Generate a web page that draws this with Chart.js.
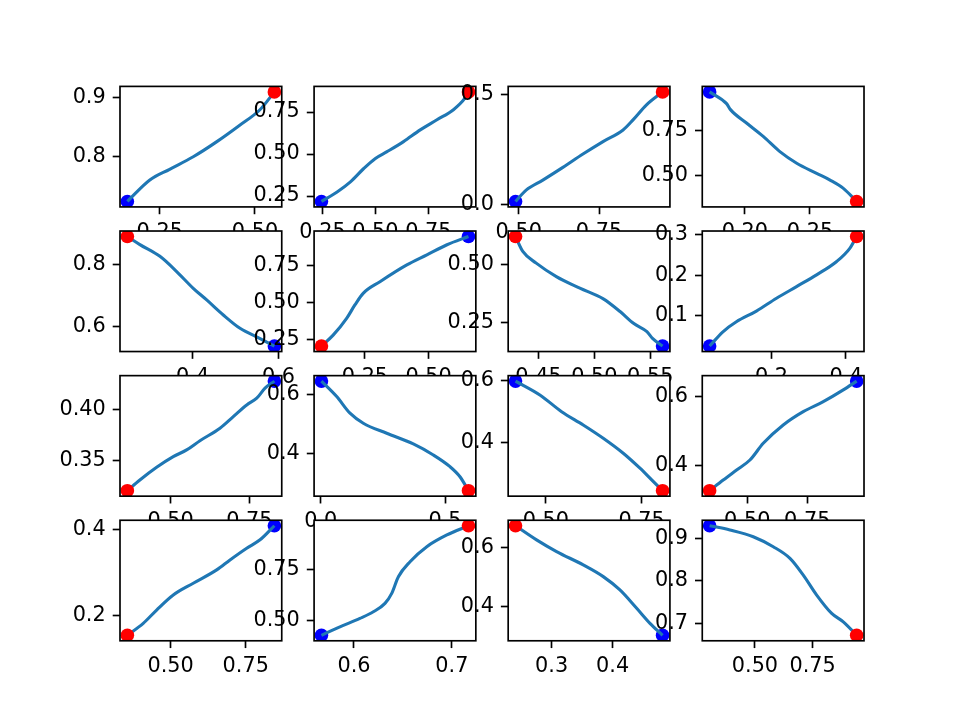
<!DOCTYPE html>
<html>
<head>
<meta charset="utf-8">
<script src="https://cdn.jsdelivr.net/npm/chart.js@4.4.1/dist/chart.umd.min.js"></script>
<style>
html, body { margin: 0; padding: 0; background: #fff; }
#fig { position: relative; width: 960px; height: 720px; overflow: hidden; background: #fff; }
#fig canvas { position: absolute; }
</style>
</head>
<body>
<div id="fig"></div>
<script>
// each curve is listed from the blue dot (first point) to the red dot (last point)
var x1 = [0.165, 0.224, 0.276, 0.338, 0.399, 0.46, 0.513, 0.551];
var y1 = [0.725, 0.761, 0.779, 0.80, 0.825, 0.853, 0.879, 0.909];
var x2 = [0.245, 0.319, 0.382, 0.445, 0.50, 0.555, 0.633, 0.712, 0.791, 0.869, 0.924, 0.94];
var y2 = [0.218, 0.274, 0.334, 0.414, 0.474, 0.514, 0.574, 0.644, 0.704, 0.764, 0.834, 0.87];
var x3 = [0.49, 0.523, 0.575, 0.6375, 0.70, 0.7625, 0.825, 0.856, 0.898, 0.948];
var y3 = [0.0125, 0.064, 0.110, 0.168, 0.229, 0.286, 0.339, 0.385, 0.454, 0.513];
var x4 = [0.173, 0.186, 0.189, 0.2013, 0.2141, 0.2269, 0.2398, 0.2551, 0.2654, 0.2756, 0.2858];
var y4 = [0.963, 0.898, 0.865, 0.791, 0.717, 0.633, 0.569, 0.513, 0.476, 0.430, 0.358];
var x5 = [0.5905, 0.5571, 0.5104, 0.4714, 0.4327, 0.4014, 0.3627, 0.3237, 0.277, 0.2478];
var y5 = [0.5378, 0.562, 0.595, 0.638, 0.6865, 0.724, 0.778, 0.827, 0.865, 0.891];
var x6 = [0.657, 0.5725, 0.4935, 0.4146, 0.309, 0.243, 0.2105, 0.178, 0.125, 0.079];
var y6 = [0.947, 0.891, 0.8225, 0.754, 0.640, 0.561, 0.482, 0.391, 0.277, 0.203];
var x7 = [0.561, 0.552, 0.547, 0.535, 0.523, 0.508, 0.487, 0.466, 0.448, 0.436, 0.4295];
var y7 = [0.149, 0.182, 0.211, 0.247, 0.298, 0.353, 0.399, 0.449, 0.507, 0.5576, 0.622];
var x8 = [0.034, 0.0697, 0.1058, 0.1596, 0.2135, 0.2673, 0.3211, 0.375, 0.4108, 0.4287];
var y8 = [0.0252, 0.0604, 0.0851, 0.1116, 0.1431, 0.1719, 0.2009, 0.2338, 0.267, 0.2955];
var x9 = [0.8297, 0.80, 0.7736, 0.7418, 0.6991, 0.6568, 0.5932, 0.5509, 0.5083, 0.4555, 0.4023, 0.3625];
var y9 = [0.4283, 0.4214, 0.4115, 0.4049, 0.3934, 0.382, 0.3697, 0.3606, 0.354, 0.3435, 0.331, 0.3205];
var x10 = [0.003, 0.0644, 0.1178, 0.1713, 0.2655, 0.3724, 0.4529, 0.52, 0.5602, 0.5943];
var y10 = [0.6465, 0.5942, 0.538, 0.504, 0.470, 0.434, 0.3966, 0.357, 0.323, 0.2758];
var x11 = [0.4208, 0.4843, 0.541, 0.5974, 0.6497, 0.7019, 0.7455, 0.7761, 0.8045];
var y11 = [0.5985, 0.5537, 0.4995, 0.4564, 0.4133, 0.3647, 0.3161, 0.2782, 0.2433];
var x12 = [0.9557, 0.90, 0.8167, 0.7333, 0.65, 0.5667, 0.5113, 0.4558, 0.40, 0.3435];
var y12 = [0.645, 0.6195, 0.5855, 0.5566, 0.518, 0.4649, 0.4165, 0.3875, 0.3585, 0.3277];
var x13 = [0.8455, 0.7977, 0.7533, 0.6977, 0.6533, 0.5753, 0.5087, 0.4533, 0.4087, 0.3558];
var y13 = [0.4095, 0.3767, 0.3573, 0.33, 0.3067, 0.2756, 0.2483, 0.2133, 0.1823, 0.1545];
var x14 = [0.5668, 0.5857, 0.6061, 0.6198, 0.6317, 0.6386, 0.6454, 0.6573, 0.6744, 0.6949, 0.717];
var y14 = [0.429, 0.4703, 0.5112, 0.5434, 0.5843, 0.633, 0.714, 0.787, 0.860, 0.917, 0.962];
var x15 = [0.4817, 0.4611, 0.4393, 0.4119, 0.3846, 0.3518, 0.3082, 0.2754, 0.241];
var y15 = [0.3038, 0.3441, 0.3946, 0.4562, 0.501, 0.5404, 0.5852, 0.6246, 0.672];
var x16 = [0.3037, 0.3917, 0.4926, 0.5793, 0.6517, 0.7093, 0.7674, 0.8323, 0.8826, 0.9405];
var y16 = [0.9293, 0.9193, 0.9035, 0.88, 0.8527, 0.8134, 0.7664, 0.7233, 0.7035, 0.672];

// tick positions
var xt1 = [0.25, 0.50],        yt1 = [0.8, 0.9];
var xt2 = [0.25, 0.50, 0.75],  yt2 = [0.25, 0.50, 0.75];
var xt3 = [0.50, 0.75],        yt3 = [0.0, 0.5];
var xt4 = [0.20, 0.25],        yt4 = [0.50, 0.75];
var xt5 = [0.4, 0.6],          yt5 = [0.6, 0.8];
var xt6 = [0.25, 0.50],        yt6 = [0.25, 0.50, 0.75];
var xt7 = [0.45, 0.50, 0.55],  yt7 = [0.25, 0.50];
var xt8 = [0.2, 0.4],          yt8 = [0.1, 0.2, 0.3];
var xt9 = [0.50, 0.75],        yt9 = [0.35, 0.40];
var xt10 = [0.0, 0.5],         yt10 = [0.4, 0.6];
var xt11 = [0.50, 0.75],       yt11 = [0.4, 0.6];
var xt12 = [0.50, 0.75],       yt12 = [0.4, 0.6];
var xt13 = [0.50, 0.75],       yt13 = [0.2, 0.4];
var xt14 = [0.6, 0.7],         yt14 = [0.50, 0.75];
var xt15 = [0.3, 0.4],         yt15 = [0.4, 0.6];
var xt16 = [0.50, 0.75],       yt16 = [0.7, 0.8, 0.9];

var panels = [
    [x1, y1, xt1, yt1], [x2, y2, xt2, yt2], [x3, y3, xt3, yt3], [x4, y4, xt4, yt4],
    [x5, y5, xt5, yt5], [x6, y6, xt6, yt6], [x7, y7, xt7, yt7], [x8, y8, xt8, yt8],
    [x9, y9, xt9, yt9], [x10, y10, xt10, yt10], [x11, y11, xt11, yt11], [x12, y12, xt12, yt12],
    [x13, y13, xt13, yt13], [x14, y14, xt14, yt14], [x15, y15, xt15, yt15], [x16, y16, xt16, yt16]
];

Chart.defaults.font.family = "'DejaVu Sans', sans-serif";
Chart.defaults.font.size = 20.8;
Chart.defaults.color = '#000';
Chart.defaults.animation = false;

var AW = 161.74, AH = 120.52, GX = 32.35, GY = 24.1;

function decimals(ticks) {
    var d = 1;
    ticks.forEach(function (v) {
        var s = String(Math.round(v * 1000) / 1000);
        var i = s.indexOf('.');
        if (i >= 0) d = Math.max(d, s.length - i - 1);
    });
    return d;
}

function limits(arr) {
    var lo = Math.min.apply(null, arr), hi = Math.max.apply(null, arr);
    var m = (hi - lo) * 0.05;
    return [lo - m, hi + m];
}

var frame = {
    id: 'frame',
    beforeDraw: function (chart) {
        var a = chart.chartArea, c = chart.ctx;
        c.save();
        c.fillStyle = '#fff';
        c.fillRect(a.left, a.top, a.right - a.left, a.bottom - a.top);
        c.restore();
    },
    afterDraw: function (chart) {
        var a = chart.chartArea, c = chart.ctx;
        c.save();
        c.strokeStyle = '#000';
        c.lineWidth = 1.67;
        c.strokeRect(a.left, a.top, a.right - a.left, a.bottom - a.top);
        c.restore();
    }
};

var fig = document.getElementById('fig');

panels.forEach(function (p, k) {
    var xs = p[0], ys = p[1], xt = p[2], yt = p[3];
    var r = Math.floor(k / 4), col = k % 4;
    var L = 120 + col * (AW + GX);
    var T = 86.4 + r * (AH + GY);

    var cl = Math.floor(L) - 90;
    var leftW = L - cl;
    var cw = Math.ceil(L + AW) + 40 - cl;
    var padR = cw - leftW - AW;
    var ct = Math.floor(T) - 20;
    var padT = T - ct;
    var ch = Math.ceil(T + AH) + 50 - ct;
    var bottomH = ch - padT - AH;

    var cv = document.createElement('canvas');
    cv.width = cw;
    cv.height = ch;
    cv.style.left = cl + 'px';
    cv.style.top = ct + 'px';
    cv.style.width = cw + 'px';
    cv.style.height = ch + 'px';
    fig.appendChild(cv);

    var pts = xs.map(function (x, i) { return { x: x, y: ys[i] }; });
    var n = pts.length;
    var xr = limits(xs), yr = limits(ys);
    var dx = decimals(xt), dy = decimals(yt);

    new Chart(cv.getContext('2d'), {
        type: 'scatter',
        data: {
            datasets: [
                {
                    data: [pts[n - 1]],
                    pointRadius: 6.8,
                    pointBackgroundColor: '#ff0000',
                    pointBorderWidth: 0,
                    showLine: false,
                    clip: 0
                },
                {
                    data: pts,
                    showLine: true,
                    borderColor: '#1f77b4',
                    borderWidth: 3.1,
                    pointRadius: 0,
                    cubicInterpolationMode: 'monotone',
                    fill: false,
                    clip: 0
                },
                {
                    data: [pts[0]],
                    pointRadius: 6.8,
                    pointBackgroundColor: '#0000ff',
                    pointBorderWidth: 0,
                    showLine: false,
                    clip: 0
                }
            ]
        },
        options: {
            responsive: false,
            devicePixelRatio: 1,
            events: [],
            layout: { padding: { top: padT, right: padR, left: 0, bottom: 0 } },
            plugins: { legend: { display: false }, tooltip: { enabled: false } },
            scales: {
                x: {
                    type: 'linear',
                    min: xr[0],
                    max: xr[1],
                    afterBuildTicks: function (s) { s.ticks = xt.map(function (v) { return { value: v }; }); },
                    afterFit: function (s) { s.height = bottomH; },
                    ticks: {
                        autoSkip: false,
                        maxRotation: 0,
                        padding: 6,
                        callback: function (v) { return Number(v).toFixed(dx); }
                    },
                    grid: { drawOnChartArea: false, tickLength: 7.3, tickColor: '#000', tickWidth: 1.67 },
                    border: { display: false }
                },
                y: {
                    type: 'linear',
                    min: yr[0],
                    max: yr[1],
                    afterBuildTicks: function (s) { s.ticks = yt.map(function (v) { return { value: v }; }); },
                    afterFit: function (s) { s.width = leftW; },
                    ticks: {
                        autoSkip: false,
                        padding: 7,
                        callback: function (v) { return Number(v).toFixed(dy); }
                    },
                    grid: { drawOnChartArea: false, tickLength: 7.3, tickColor: '#000', tickWidth: 1.67 },
                    border: { display: false }
                }
            }
        },
        plugins: [frame]
    });
});
</script>
</body>
</html>
